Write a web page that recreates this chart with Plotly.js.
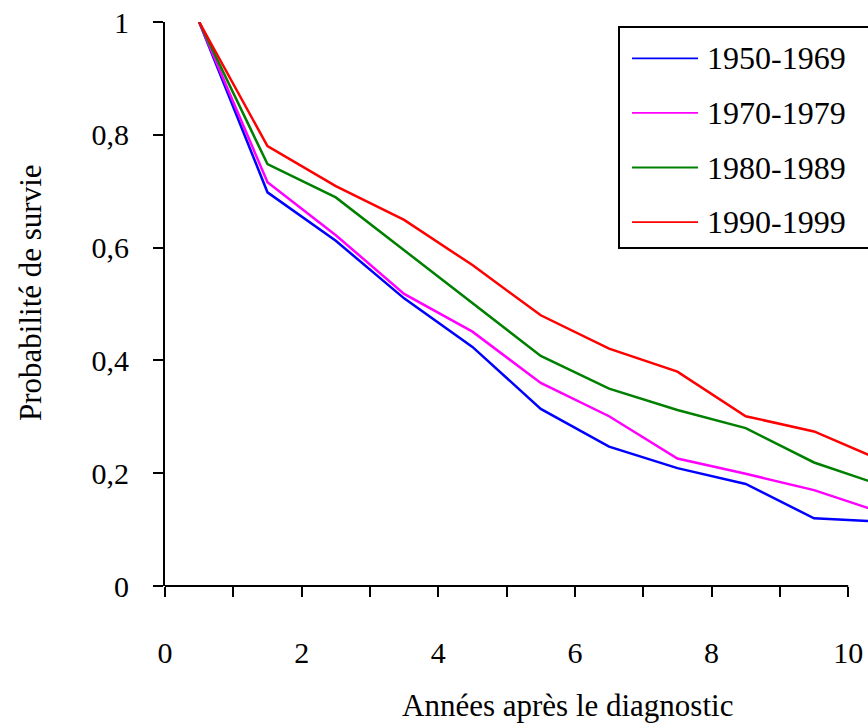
<!DOCTYPE html>
<html>
<head>
<meta charset="utf-8">
<script src="https://cdn.plot.ly/plotly-3.0.1.min.js"></script>
<style>html,body{margin:0;padding:0;background:#fff;}#chart{width:868px;height:724px;}</style>
</head>
<body>
<div id="chart"></div>
<script>
// ---- data ----
const years = [0.5, 1.5, 2.5, 3.5, 4.5, 5.5, 6.5, 7.5, 8.5, 9.5, 10.5];
const s1950_1969 = [1, 0.698, 0.612, 0.510, 0.424, 0.314, 0.247, 0.209, 0.181, 0.120, 0.114];
const s1970_1979 = [1, 0.716, 0.622, 0.518, 0.451, 0.360, 0.301, 0.226, 0.199, 0.170, 0.130];
const s1980_1989 = [1, 0.748, 0.689, 0.595, 0.501, 0.408, 0.350, 0.312, 0.280, 0.219, 0.178];
const s1990_1999 = [1, 0.780, 0.709, 0.649, 0.569, 0.480, 0.421, 0.380, 0.301, 0.274, 0.222];
const seriesNames = ['1950-1969', '1970-1979', '1980-1989', '1990-1999'];
const xTickVals = [0, 1, 2, 3, 4, 5, 6, 7, 8, 9, 10];
const xTickText = ['0', '', '2', '', '4', '', '6', '', '8', '', '10'];
const yTickVals = [0, 0.2, 0.4, 0.6, 0.8, 1];
const yTickText = ['0', '0,2', '0,4', '0,6', '0,8', '1'];
const xTitle = 'Années après le diagnostic';
const yTitle = 'Probabilité de survie';

// ---- styles ----
const colors = ['#0000FF', '#FF00FF', '#008000', '#FF0000'];
const seriesValues = [s1950_1969, s1970_1979, s1980_1989, s1990_1999];
const FONT = 'Liberation Serif';

const W = 868, H = 724;
const M = {l: 165, r: 0, t: 22, b: 138};
const xRange = [0, 10.29];
const plotW = W - M.l - M.r, plotH = H - M.t - M.b;
const px2x = p => (p - M.l) / plotW;
const py2y = p => (H - M.b - p) / plotH;

const traces = seriesValues.map((vals, i) => ({
  type: 'scatter', mode: 'lines', x: years, y: vals, name: seriesNames[i],
  line: {color: colors[i], width: 2.5}, showlegend: false, hoverinfo: 'x+y+name'
}));

const shapes = [
  {type: 'line', xref: 'paper', yref: 'paper', x0: 0, x1: xTickVals[xTickVals.length - 1] / xRange[1], y0: 0, y1: 0,
   line: {color: '#000', width: 2}},
  {type: 'rect', xref: 'paper', yref: 'paper', x0: px2x(619), x1: px2x(900), y0: py2y(248), y1: py2y(27),
   line: {color: '#000', width: 2}, fillcolor: 'rgba(255,255,255,1)', layer: 'above'}
];
const annotations = [
  {xref: 'paper', yref: 'paper', x: px2x(567.5), y: py2y(705), text: xTitle, showarrow: false,
   xanchor: 'center', yanchor: 'middle', font: {family: FONT, size: 31, color: '#000'}},
  {xref: 'paper', yref: 'paper', x: px2x(30), y: py2y(293), text: yTitle, showarrow: false, textangle: -90,
   xanchor: 'center', yanchor: 'middle', font: {family: FONT, size: 31, color: '#000'}}
];
seriesNames.forEach((n, i) => {
  const yc = 58.3 + i * 54.6;
  shapes.push({type: 'line', xref: 'paper', yref: 'paper', x0: px2x(632), x1: px2x(698), y0: py2y(yc), y1: py2y(yc),
    line: {color: colors[i], width: 1.8}, layer: 'above'});
  annotations.push({xref: 'paper', yref: 'paper', x: px2x(705), y: py2y(yc), text: n, showarrow: false,
    xanchor: 'left', yanchor: 'middle', font: {family: FONT, size: 32, color: '#000'}});
});

const tickFont = {family: FONT, size: 30, color: '#000'};
const layout = {
  width: W, height: H, margin: M, paper_bgcolor: '#fff', plot_bgcolor: '#fff',
  showlegend: false,
  font: {family: FONT, size: 30, color: '#000'},
  xaxis: {range: xRange, tickmode: 'array', tickvals: xTickVals, ticktext: xTickText,
    ticks: 'outside', ticklen: 10, tickwidth: 2, tickcolor: '#000', showline: false,
    showgrid: false, zeroline: false, ticklabelstandoff: 30, tickfont: tickFont},
  yaxis: {range: [0, 1], tickmode: 'array', tickvals: yTickVals, ticktext: yTickText,
    ticks: 'outside', ticklen: 10, tickwidth: 2, tickcolor: '#000', showline: true, linewidth: 2,
    linecolor: '#000', showgrid: false, zeroline: false, ticklabelstandoff: 18, tickfont: tickFont},
  shapes: shapes, annotations: annotations
};
Plotly.newPlot('chart', traces, layout, {displayModeBar: false, staticPlot: true});
</script>
</body>
</html>
